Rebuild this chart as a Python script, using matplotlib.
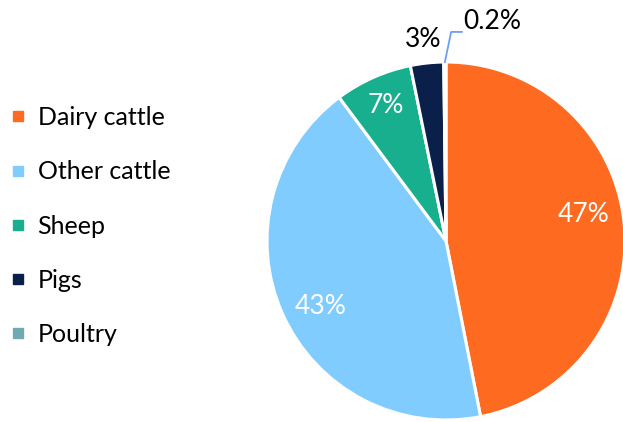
import matplotlib
matplotlib.use("Agg")
import matplotlib.pyplot as plt
from matplotlib.lines import Line2D
import numpy as np

categories = ["Dairy cattle", "Other cattle", "Sheep", "Pigs", "Poultry"]
values = [47, 43, 7, 3, 0.2]
labels = ["47%", "43%", "7%", "3%", "0.2%"]
colors = ["#FF6A21", "#80CCFF", "#17AF8E", "#0B1F4B", "#6FAAB3"]

plt.rcParams['font.family'] = ['Lato', 'DejaVu Sans']

W, H = 623, 422
fig = plt.figure(figsize=(W / 100, H / 100), dpi=100)
cx, cy, r = 446, 241, 179
ax = fig.add_axes([(cx - r) / W, (H - cy - r) / H, 2 * r / W, 2 * r / H])
wedges, _ = ax.pie(values, colors=colors, startangle=90, counterclock=False,
                   radius=1, wedgeprops=dict(edgecolor="white", linewidth=2.2))
ax.set_xlim(-1, 1)
ax.set_ylim(-1, 1)
ax.set_aspect("equal")
ax.axis("off")

fs = 18
pfs = 19
dists = [0.78, 0.79, 0.83]
dang = [5.3, 3.6, 0.0]
for i, w in enumerate(wedges):
    ang = np.deg2rad((w.theta1 + w.theta2) / 2 + (dang[i] if i < 3 else 0))
    if i < 3:
        d = dists[i]
        ax.text(d * np.cos(ang), d * np.sin(ang), labels[i], color="white",
                fontsize=pfs, ha="center", va="center")
    elif i == 3:
        d = 1.13
        ax.text(d * np.cos(ang) - 0.005, d * np.sin(ang), labels[i], color="black",
                fontsize=pfs, ha="center", va="center", clip_on=False)
    else:
        x0, y0 = np.cos(ang), np.sin(ang)
        ax.plot([x0, x0 + 0.035, x0 + 0.095], [y0, y0 + 0.168, y0 + 0.168],
                color="#6E9FEF", lw=1.3, clip_on=False)
        ax.text(x0 + 0.105, y0 + 0.225, labels[i], color="black",
                fontsize=pfs, ha="left", va="center", clip_on=False)

handles = [Line2D([], [], marker="s", linestyle="none", markersize=6.5,
                  markerfacecolor=c, markeredgecolor=c) for c in colors]
fig.legend(handles, categories, loc="upper left", bbox_to_anchor=(0.0, 0.772),
           frameon=False, fontsize=fs, handlelength=0.6, handletextpad=0.5,
           labelspacing=1.25, borderaxespad=0)

fig.savefig("out.png", dpi=100)
